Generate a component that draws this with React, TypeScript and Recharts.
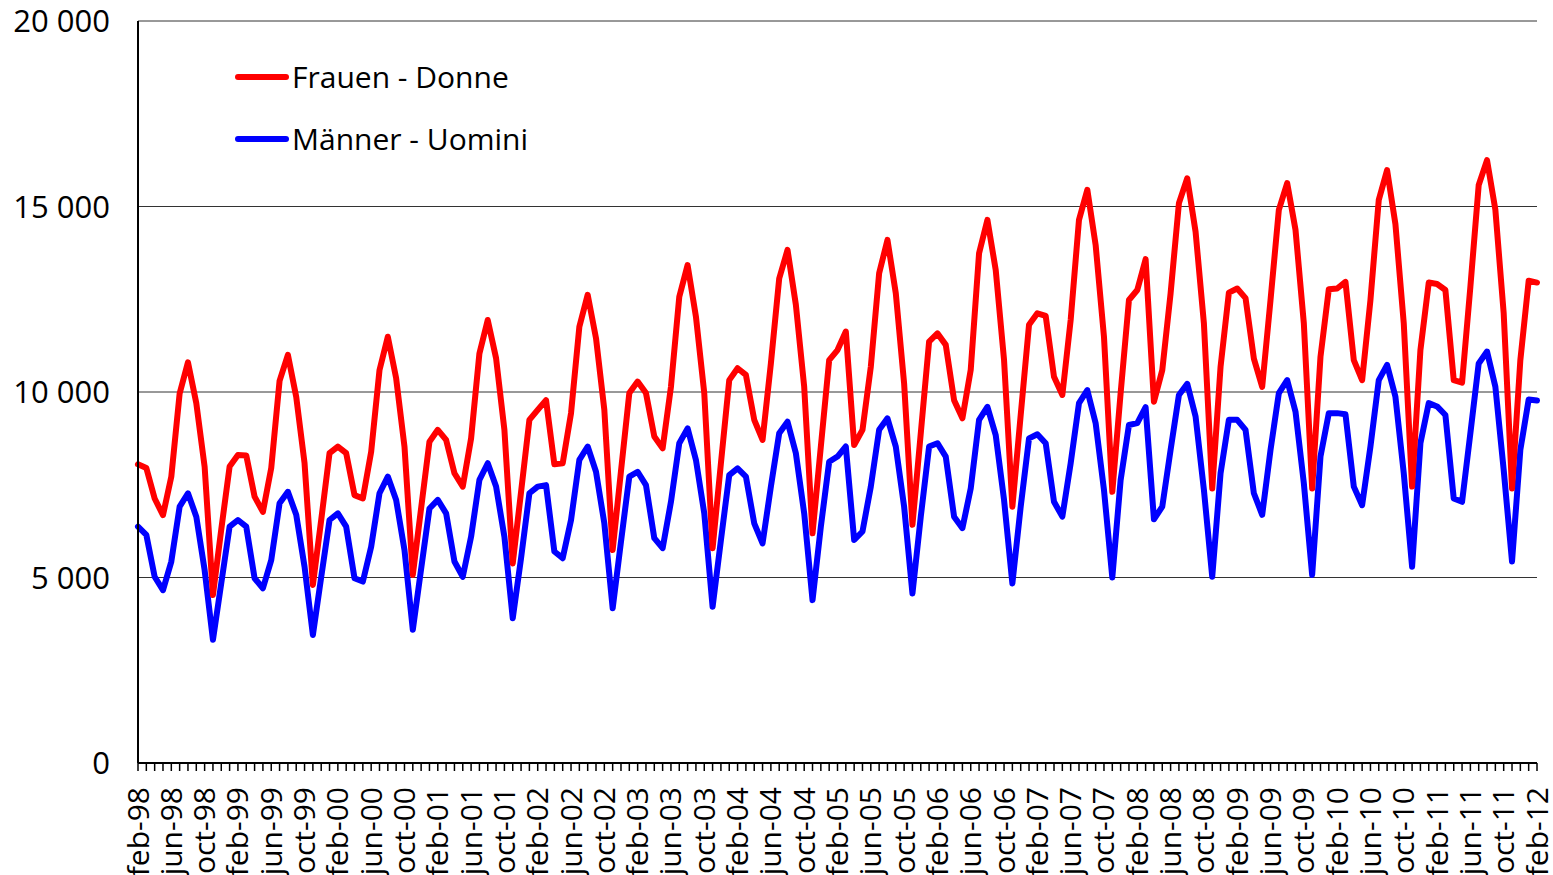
import { CartesianGrid, Legend, Line, LineChart, XAxis, YAxis } from "recharts";

document.body.style.margin = "0";

// monthly values, feb-98 .. feb-12
const frauen = [
  8050, 7950, 7130, 6680, 7720, 9960, 10800, 9700, 7990, 4530, 6300, 7990,
  8300, 8290, 7180, 6770, 7950, 10300, 11000, 9870, 8080, 4800, 6550, 8350,
  8530, 8350, 7220, 7130, 8390, 10590, 11490, 10370, 8530, 5070, 6870, 8660,
  8980, 8710, 7810, 7450, 8750, 11040, 11940, 10910, 8980, 5380, 7310, 9250,
  9520, 9780, 8050, 8080, 9430, 11760, 12620, 11450, 9520, 5740, 7870, 9970,
  10280, 9970, 8800, 8480, 10140, 12570, 13420, 12030, 9970, 5790, 8080, 10320,
  10640, 10460, 9250, 8710, 10770, 13060, 13830, 12350, 10140, 6190, 8530, 10860,
  11130, 11630, 8570, 8980, 10680, 13200, 14100, 12660, 10230, 6420, 8890, 11360,
  11580, 11270, 9780, 9290, 10600, 13740, 14640, 13290, 10860, 6910, 9380, 11810,
  12120, 12050, 10410, 9920, 11940, 14640, 15450, 13960, 11490, 7310, 9970, 12480,
  12750, 13580, 9740, 10590, 12660, 15090, 15760, 14320, 11850, 7400, 10680, 12680,
  12790, 12530, 10900, 10140, 12480, 14910, 15630, 14370, 11850, 7400, 10950, 12770,
  12790, 12970, 10860, 10320, 12480, 15180, 15980, 14520, 11850, 7450, 11130, 12950,
  12910, 12750, 10320, 10250, 12840, 15580, 16250, 14910, 12120, 7400, 10860, 13000,
  12950,
];

const maenner = [
  6370, 6150, 5020, 4660, 5430, 6910, 7270, 6640, 5200, 3320, 4850, 6370,
  6550, 6370, 4980, 4710, 5470, 7000, 7310, 6690, 5290, 3450, 5010, 6550,
  6730, 6370, 4980, 4890, 5830, 7270, 7720, 7090, 5740, 3590, 5230, 6860,
  7090, 6730, 5430, 5020, 6100, 7630, 8080, 7450, 6100, 3900, 5520, 7270,
  7450, 7490, 5700, 5520, 6550, 8170, 8530, 7850, 6460, 4170, 5970, 7720,
  7850, 7490, 6060, 5790, 7040, 8620, 9020, 8170, 6730, 4210, 6010, 7760,
  7940, 7720, 6460, 5920, 7450, 8890, 9200, 8350, 6730, 4390, 6370, 8120,
  8260, 8530, 6010, 6240, 7450, 8980, 9290, 8530, 6910, 4570, 6640, 8530,
  8620, 8260, 6640, 6330, 7400, 9250, 9600, 8840, 7090, 4840, 6910, 8750,
  8860, 8620, 7040, 6640, 8080, 9700, 10050, 9160, 7360, 5000, 7630, 9110,
  9160, 9590, 6570, 6910, 8440, 9920, 10220, 9340, 7360, 5020, 7810, 9250,
  9250, 8980, 7270, 6690, 8440, 9970, 10320, 9470, 7540, 5070, 8260, 9430,
  9430, 9400, 7450, 6950, 8530, 10320, 10730, 9870, 7810, 5290, 8620, 9700,
  9610, 9380, 7130, 7040, 8890, 10770, 11090, 10140, 7900, 5430, 8440, 9800,
  9770,
];

const monthNames = ["jan", "feb", "mar", "apr", "may", "jun", "jul", "aug", "sep", "oct", "nov", "dec"];
const months: string[] = [];
for (let i = 0; i < frauen.length; i++) {
  const m = (1 + i) % 12;
  const y = (98 + Math.floor((1 + i) / 12)) % 100;
  months.push(`${monthNames[m]}-${String(y).padStart(2, "0")}`);
}

const yTicks = [0, 5000, 10000, 15000, 20000];
const legendOrder = ["Frauen - Donne", "Männer - Uomini"];

const data = months.map((month, i) => ({ month, frauen: frauen[i], maenner: maenner[i] }));

const FONT = "'Open Sans', sans-serif";

const fmt = (v: number) => String(v).replace(/\B(?=(\d{3})+(?!\d))/g, " ");

function MonthTick(props: any) {
  const { x, y, payload, index } = props;
  if (index % 4 !== 0) return null;
  return (
    <text
      x={x}
      y={y}
      dy="0.35em"
      textAnchor="end"
      transform={`rotate(-90, ${x}, ${y})`}
      fontSize={30}
      fontFamily={FONT}
      fill="#000"
    >
      {payload.value}
    </text>
  );
}

function renderLegend(props: any) {
  const items = legendOrder
    .map((name) => (props.payload || []).find((p: any) => p.value === name))
    .filter(Boolean);
  return (
    <div style={{ fontFamily: FONT }}>
      {items.map((entry: any) => (
        <div key={entry.value} style={{ display: "flex", alignItems: "center", height: 62 }}>
          <div style={{ width: 54, height: 6, borderRadius: 3, background: entry.color, marginRight: 3 }} />
          <span style={{ fontSize: 30, lineHeight: 1, color: "#000" }}>{entry.value}</span>
        </div>
      ))}
    </div>
  );
}

export default function App() {
  return (
    <div style={{ width: 1553, height: 875, background: "#fff", fontFamily: FONT }}>
      <LineChart width={1553} height={875} data={data} margin={{ top: 21, right: 16, left: 0, bottom: 0 }}>
        <CartesianGrid vertical={false} stroke="#333" strokeWidth={1} />
        <XAxis
          dataKey="month"
          interval={0}
          height={112}
          tickSize={8}
          tickMargin={16}
          tickLine={{ stroke: "#000", strokeWidth: 1.5 }}
          axisLine={{ stroke: "#000", strokeWidth: 2 }}
          tick={<MonthTick />}
        />
        <YAxis
          domain={[0, 20000]}
          ticks={yTicks}
          width={138}
          tickLine={false}
          tickMargin={22}
          axisLine={{ stroke: "#000", strokeWidth: 2 }}
          tickFormatter={fmt}
          tick={{ fontSize: 31, fill: "#000", fontFamily: FONT }}
        />
        <Legend
          layout="vertical"
          align="center"
          verticalAlign="middle"
          content={renderLegend}
          wrapperStyle={{ left: 235, top: 46, width: "auto" }}
        />
        <Line
          name="Männer - Uomini"
          dataKey="maenner"
          stroke="#0000ff"
          strokeWidth={6}
          dot={false}
          strokeLinejoin="round"
          strokeLinecap="round"
          isAnimationActive={false}
        />
        <Line
          name="Frauen - Donne"
          dataKey="frauen"
          stroke="#ff0000"
          strokeWidth={6}
          dot={false}
          strokeLinejoin="round"
          strokeLinecap="round"
          isAnimationActive={false}
        />
      </LineChart>
    </div>
  );
}
